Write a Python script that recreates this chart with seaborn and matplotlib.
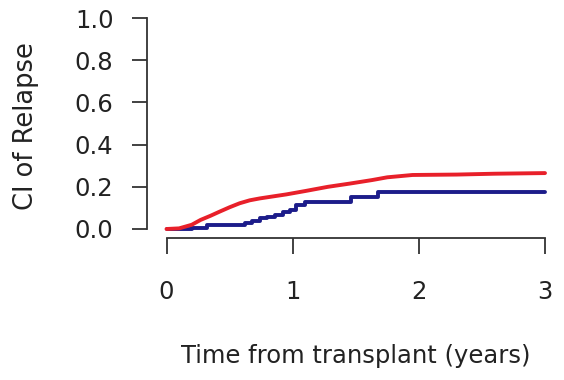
import matplotlib
matplotlib.use("Agg")
import matplotlib.pyplot as plt
import numpy as np
import pandas as pd
import seaborn as sns

# Cumulative incidence of relapse by group (time in years)
red_time = [0, 0.1, 0.2, 0.27, 0.35, 0.42, 0.5, 0.58, 0.66, 0.74, 0.85, 0.95,
            1.1, 1.28, 1.45, 1.63, 1.75, 1.95, 2.3, 2.6, 3.0]
red_ci = [0, 0.003, 0.02, 0.043, 0.063, 0.082, 0.103, 0.122, 0.136, 0.145, 0.155,
          0.164, 0.18, 0.20, 0.215, 0.232, 0.245, 0.256, 0.258, 0.262, 0.265]

blue_time = [0, 0.2, 0.32, 0.62, 0.68, 0.74, 0.8, 0.86, 0.92, 0.98, 1.03, 1.1,
             1.46, 1.68, 3.0]
blue_ci = [0, 0.005, 0.019, 0.03, 0.04, 0.05, 0.058, 0.066, 0.08, 0.09, 0.114,
           0.129, 0.153, 0.177, 0.177]

x_ticks = [0, 1, 2, 3]
y_ticks = [0.0, 0.2, 0.4, 0.6, 0.8, 1.0]

sns.set_style("white")
plt.rcParams["font.family"] = ["DejaVu Sans"]

red_df = pd.DataFrame({"time": red_time, "ci": red_ci})
blue_df = pd.DataFrame({"time": blue_time, "ci": blue_ci})

fig = plt.figure(figsize=(5.64, 3.80), dpi=100)
ax = fig.add_axes([166.5 / 564, 151 / 380, 378.5 / 564, 211 / 380])

sns.lineplot(data=blue_df, x="time", y="ci", ax=ax, color="#1C1C8A",
             linewidth=2.8, drawstyle="steps-post", clip_on=False)
sns.lineplot(data=red_df, x="time", y="ci", ax=ax, color="#E8202A",
             linewidth=2.8, clip_on=False)

ax.set_xlim(0, 3)
ax.set_ylim(0, 1)
ax.set_xticks(x_ticks)
ax.set_xticklabels([str(v) for v in x_ticks])
ax.set_yticks(y_ticks)
ax.set_yticklabels([f"{v:.1f}" for v in y_ticks])

for side in ("top", "right"):
    ax.spines[side].set_visible(False)
ax.spines["left"].set_position(("outward", 13.7))
ax.spines["bottom"].set_position(("outward", 6.5))
ax.spines["left"].set_bounds(0, 1)
ax.spines["bottom"].set_bounds(0, 3)
for side in ("left", "bottom"):
    ax.spines[side].set_color("#333333")
    ax.spines[side].set_linewidth(1.3)

ax.tick_params(axis="x", length=11.5, width=1.3, color="#333333", pad=19,
               labelsize=17.5, labelcolor="#222222", bottom=True)
ax.tick_params(axis="y", length=10.5, width=1.3, color="#333333", pad=14,
               labelsize=17.5, labelcolor="#222222", left=True)

ax.set_xlabel("Time from transplant (years)", fontsize=17.5, color="#222222",
              va="center")
ax.set_ylabel("CI of Relapse", fontsize=18.5, color="#222222", va="center")
ax.xaxis.set_label_coords(0.5, -0.602)
ax.yaxis.set_label_coords((26 - 166.5) / 378.5, 0.49)

fig.savefig("out.png", dpi=100)
